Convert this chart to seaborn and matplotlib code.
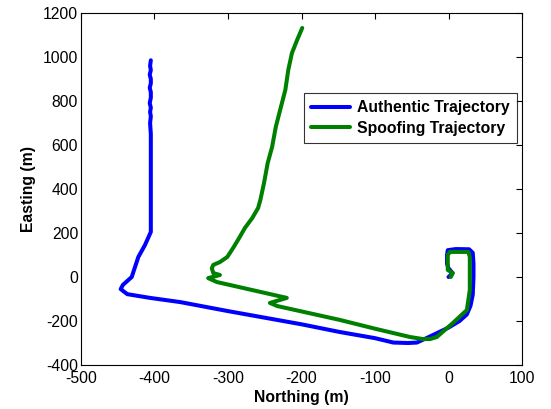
import numpy as np
import pandas as pd
import matplotlib
matplotlib.use("Agg")
import matplotlib.pyplot as plt
import seaborn as sns

# Authentic trajectory (Northing, Easting) in metres
auth_north = [-405, -406, -405, -406.5, -405, -405, -406.5, -405, -405, -406.5, -405, -406, -405, -406,
              -405, -405, -405, -405, -405, -413, -422, -431, -443, -446, -437, -406, -365,
              -300, -250, -200, -148, -100, -75, -55, -43, -25, 0, 15, 25, 30, 33, 34, 34, 33,
              28, 10, -1, -2, -2, 0, 5, 2, 0]
auth_east = [985, 960, 940, 920, 900, 880, 860, 840, 815, 790, 770, 750, 730, 700,
             650, 500, 400, 300, 205, 145, 91, 0, -36, -55, -78, -95, -114,
             -155, -185, -215, -250, -278, -298, -300, -298, -270, -230, -200, -170, -130, -80, 0, 60, 110,
             126, 127, 122, 100, 60, 40, 20, 5, 0]

# Spoofing trajectory (Northing, Easting) in metres
spoof_north = [-199, -206, -213, -218, -222, -228, -235, -240, -246, -251, -256, -259, -267, -277,
               -284, -293, -301, -311, -320, -322, -320, -311, -327, -315, -220, -243, -233,
               -148, -100, -52, -35, -25, -16, 6, 25, 29, 29, 27, 2, -1, -1, 6, 3]
spoof_east = [1132, 1077, 1018, 941, 850, 773, 682, 591, 518, 427, 350, 314, 268, 223,
              182, 132, 91, 68, 55, 40, 18, 9, -5, -23, -95, -118, -132,
              -195, -235, -273, -282, -282, -273, -209, -150, -59, 91, 114, 114, 100, 32, 18, 0]

labels = ["Authentic Trajectory", "Spoofing Trajectory"]
colors = ["#0000ff", "#008000"]

df = pd.concat([
    pd.DataFrame({"Northing": auth_north, "Easting": auth_east, "Series": labels[0]}),
    pd.DataFrame({"Northing": spoof_north, "Easting": spoof_east, "Series": labels[1]}),
], ignore_index=True)

sns.set_theme(style="white")
plt.rcParams['font.family'] = ['Liberation Sans', 'DejaVu Sans']
plt.rcParams['axes.unicode_minus'] = False
plt.rcParams['text.color'] = 'black'
plt.rcParams['axes.labelcolor'] = 'black'

fig = plt.figure(figsize=(5.51, 4.09), dpi=100)
ax = fig.add_axes([81/551, 1-365/409, 441/551, 352/409])

sns.lineplot(data=df, x="Northing", y="Easting", hue="Series", palette=colors,
             sort=False, estimator=None, linewidth=2.9, ax=ax)

ax.set_xlim(-500, 100)
ax.set_ylim(-400, 1200)
ax.set_xticks(np.arange(-500, 101, 100))
ax.set_yticks(np.arange(-400, 1201, 200))
fs = 11.3
ax.tick_params(direction="in", length=4, width=0.8, top=True, right=True,
               labelsize=fs, colors="black")
ax.tick_params(axis="x", pad=4.5)
ax.tick_params(axis="y", pad=2)
for s in ax.spines.values():
    s.set_color("black")
    s.set_linewidth(0.8)
ax.set_xlabel("Northing (m)", fontsize=fs, fontweight="bold", labelpad=3, color="black")
ax.set_ylabel("Easting (m)", fontsize=fs, fontweight="bold", labelpad=5, color="black")

leg = ax.legend(loc="upper right", bbox_to_anchor=(0.9887, 0.7727), borderaxespad=0,
                prop={"size": fs, "weight": "bold"}, frameon=True, fancybox=False,
                handlelength=2.5, handletextpad=0.45, borderpad=0.45, labelspacing=0.35)
leg.get_frame().set_edgecolor("black")
leg.get_frame().set_linewidth(0.8)
for t in leg.get_texts():
    t.set_color("black")
for h in leg.get_lines():
    h.set_linewidth(2.9)

fig.savefig("out.png", dpi=100)
